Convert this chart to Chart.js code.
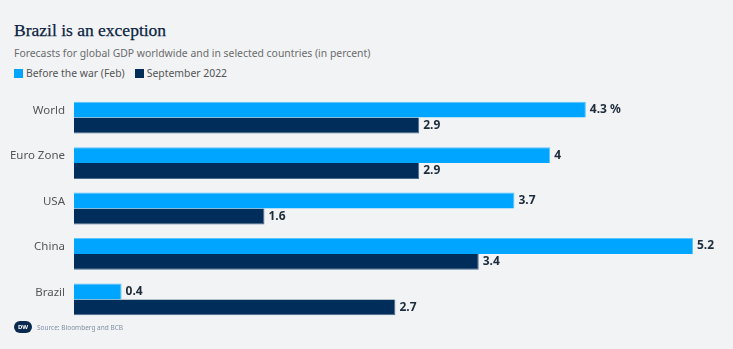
<!DOCTYPE html>
<html>
<head>
<meta charset="utf-8">
<script src="https://cdn.jsdelivr.net/npm/chart.js@4"></script>
<style>
    body { margin: 0; width: 733px; height: 349px; background: #f1f3f5; position: relative; overflow: hidden; font-family: "Noto Sans", sans-serif; }
    #title { position: absolute; left: 14px; top: 20px; font-family: "Liberation Serif", serif; font-size: 17.5px; color: #0b2240; -webkit-text-stroke: 0.25px #0b2240; }
    #subtitle { position: absolute; left: 14px; top: 46px; font-size: 10.4px; color: #6b6b6b; }
    #legend { position: absolute; left: 14px; top: 66px; font-size: 10.4px; color: #555; display: flex; }
    #legend span.item { display: flex; align-items: center; margin-right: 10px; }
    #legend i { display: inline-block; width: 9px; height: 9px; margin-right: 3px; }
    #chart-box { position: absolute; left: 0; top: 87px; width: 733px; height: 243px; }
    #source { position: absolute; left: 14px; top: 321px; display: flex; align-items: center; font-size: 6.5px; color: #8190a3; }
    #logo { width: 18px; height: 12px; border-radius: 6px; background: #0b2a4f; color: #fff; font-size: 6px; font-weight: bold; text-align: center; line-height: 12px; margin-right: 5px; }
</style>
</head>
<body>
<div id="title">Brazil is an exception</div>
<div id="subtitle">Forecasts for global GDP worldwide and in selected countries (in percent)</div>
<div id="legend"></div>
<div id="chart-box"><canvas id="chart"></canvas></div>
<div id="source"><div id="logo">DW</div>Source: Bloomberg and BCB</div>
<script>
const categories = ["World", "Euro Zone", "USA", "China", "Brazil"];
const seriesNames = ["Before the war (Feb)", "September 2022"];
const beforeWar = [4.3, 4, 3.7, 5.2, 0.4];
const september2022 = [2.9, 2.9, 1.6, 3.4, 2.7];
const seriesColors = ["#00a5ff", "#002d5a"];

const legendElement = document.getElementById("legend");
seriesNames.forEach(function (name, i) {
    const item = document.createElement("span");
    item.className = "item";
    item.innerHTML = '<i style="background:' + seriesColors[i] + '"></i>' + name;
    legendElement.appendChild(item);
});

const valueLabels = {
    id: "valueLabels",
    afterDatasetsDraw: function (chart) {
        const ctx = chart.ctx;
        ctx.save();
        ctx.font = "bold 12px 'Noto Sans'";
        ctx.fillStyle = "#1d2b3a";
        ctx.textBaseline = "middle";
        chart.data.datasets.forEach(function (ds, di) {
            chart.getDatasetMeta(di).data.forEach(function (bar, i) {
                let text = String(ds.data[i]);
                if (di === 0 && i === 0) text += " %";
                ctx.fillText(text, bar.x + 4, bar.y);
            });
        });
        ctx.restore();
    }
};

new Chart(document.getElementById("chart"), {
    type: "bar",
    data: {
        labels: categories,
        datasets: [
            { label: seriesNames[0], data: beforeWar, backgroundColor: seriesColors[0], borderColor: "#5cc4ff", borderWidth: { top: 1, right: 1, bottom: 0, left: 0 }, categoryPercentage: 0.7, barPercentage: 1.0 },
            { label: seriesNames[1], data: september2022, backgroundColor: seriesColors[1], borderColor: "#4a6a8a", borderWidth: { top: 0, right: 1, bottom: 1, left: 0 }, categoryPercentage: 0.7, barPercentage: 1.0 }
        ]
    },
    options: {
        indexAxis: "y",
        responsive: true,
        maintainAspectRatio: false,
        animation: false,
        layout: { padding: { top: 6, right: 40, bottom: 0, left: 0 } },
        plugins: { legend: { display: false }, tooltip: { enabled: false } },
        scales: {
            x: { display: false, min: 0, max: 5.2 },
            y: {
                grid: { display: false },
                border: { display: false },
                ticks: { color: "#555", font: { family: "Noto Sans", size: 11.5 }, padding: 1, labelOffset: -7 },
                afterFit: function (scale) { scale.width = 74; }
            }
        }
    },
    plugins: [valueLabels]
});
</script>
</body>
</html>
